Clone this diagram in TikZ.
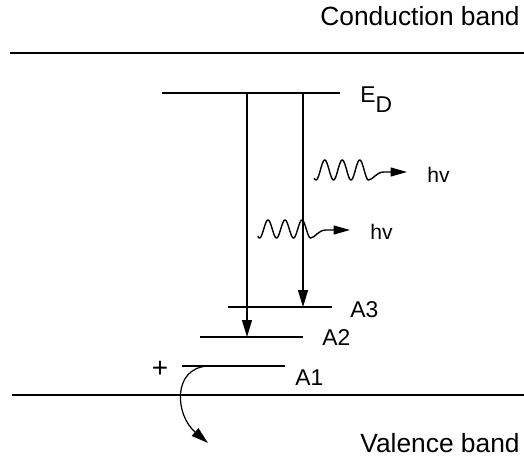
\documentclass[tikz,border=0pt]{standalone}
\usepackage{fontspec}
\setmainfont{Liberation Sans}
\usetikzlibrary{arrows.meta}

\begin{document}
\begin{tikzpicture}[
  x=0.02cm,y=-0.02cm,
  font=\fontsize{13}{15}\selectfont,
  >={Triangle[length=3.4mm,width=2mm]},
  band/.style={line width=1.2pt},
  level/.style={line width=0.9pt},
  trans/.style={->,line width=0.7pt},
  photon/.style={->,line width=0.8pt,>={Triangle[length=3.3mm,width=1.8mm]}},
  tag/.style={anchor=west,inner sep=0pt},
  bandtag/.style={anchor=east,inner sep=0pt,font=\fontsize{15}{18}\selectfont}
]
\useasboundingbox (0,0) rectangle (524,462);

\draw[band] (10,53) coordinate (cb-l) -- (524,53) coordinate (cb-r);
\draw[band] (12,395) coordinate (vb-l) -- (524,395) coordinate (vb-r);
\node[bandtag] (cbtag) at (520,16) {Conduction band};
\node[bandtag] (vbtag) at (520,443) {Valence band};

\foreach \lname/\xa/\xb/\yy in {
  ED/162/340/93,
  A3/228/332/307,
  A2/200/303/337,
  A1/182/285/366}
  {
    \draw[level] (\xa,\yy) coordinate (\lname-l) -- (\xb,\yy) coordinate (\lname-r);
  }
\node[tag,anchor=base west] (EDtag) at (360,103) {E\raisebox{-5.5pt}{D}};
\node[tag] (A3tag) at (350,310) {A3};
\node[tag] (A2tag) at (322,338) {A2};
\node[tag] (A1tag) at (295,378) {A1};
\node[inner sep=0pt,font=\fontsize{16}{18}\selectfont] (hole) at (160,369) {+};

\coordinate (t1-top) at (247,93);
\coordinate (t1-end) at (247,337);
\coordinate (t2-top) at (303,93);
\coordinate (t2-end) at (303,307);
\draw[trans] (t1-top) -- (t1-end);
\draw[trans] (t2-top) -- (t2-end);

\draw[photon] plot[domain=-0.1:3,samples=90] ({316+17.5*\x},{170+10*cos(360*\x)})
  .. controls (373,180) and (376,172) .. (384,172) -- (407,172) coordinate (hv1-tip);
\draw[photon] plot[domain=-0.1:3,samples=90] ({259.5+17*\x},{229+9*cos(360*\x)})
  .. controls (315,238) and (318,230) .. (326,230) -- (350,230) coordinate (hv2-tip);
\node[tag,font=\fontsize{12}{14}\selectfont] (hv1) at (427,175) {hv};
\node[tag,font=\fontsize{12}{14}\selectfont] (hv2) at (370,232) {hv};

\coordinate (h-start) at (208,366);
\coordinate (h-end) at (208,443);
\draw[trans] (h-start) .. controls (172,368) and (175,415) .. (h-end);
\end{tikzpicture}
\end{document}
